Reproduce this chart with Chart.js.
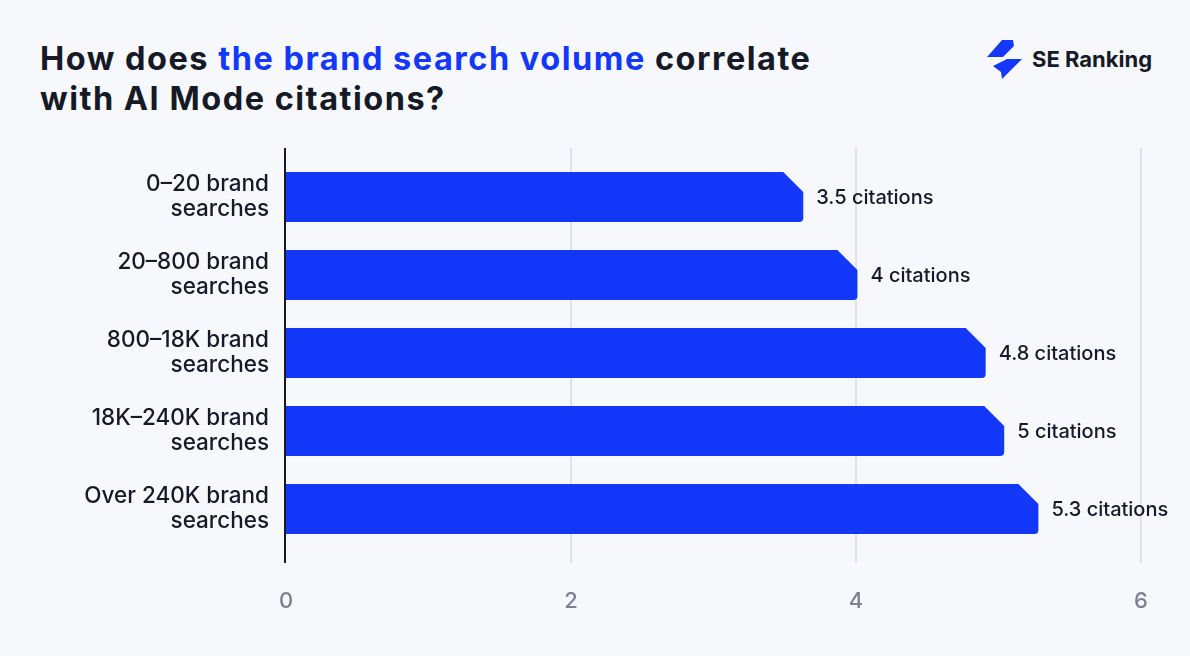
<!DOCTYPE html>
<html>
<head>
<meta charset="utf-8">
<script src="https://cdn.jsdelivr.net/npm/chart.js@4"></script>
<style>
  html, body { margin: 0; padding: 0; background: #f6f8fc; }
  body { width: 1190px; height: 656px; position: relative; overflow: hidden; font-family: Inter, "Noto Sans", sans-serif; }
  #title { position: absolute; left: 40px; top: 39px; font-size: 32.5px; font-weight: 700; line-height: 40px; color: #151a26; letter-spacing: 1.5px; }
  #title .hl { color: #1438f9; }
  #logo { position: absolute; left: 984px; top: 38px; display: flex; align-items: center; }
  #logo span { font-size: 22px; font-weight: 700; color: #151a26; margin-left: 8px; letter-spacing: 0px; }
  #wrap { position: absolute; left: 0; top: 0; width: 1190px; height: 656px; }
</style>
</head>
<body>
<div id="title">How does <span class="hl">the brand search volume</span> correlate<br>with AI Mode citations?</div>
<div id="logo">
  <svg width="40" height="42" viewBox="0 0 40 42">
    <polygon points="18,2 29,2 30,8 19,19 3,19" fill="#1438f9"/>
    <polygon points="23,21 38,21 18,41 17,34 9,28" fill="#1438f9"/>
  </svg>
  <span>SE Ranking</span>
</div>
<div id="wrap"><canvas id="c" width="1190" height="656"></canvas></div>
<script>
const categories = [
  ["0\u201320 brand", "searches"],
  ["20\u2013800 brand", "searches"],
  ["800\u201318K brand", "searches"],
  ["18K\u2013240K brand", "searches"],
  ["Over 240K brand", "searches"]
];
const values = [3.63, 4.01, 4.91, 5.04, 5.28];
const valueLabels = ["3.5 citations", "4 citations", "4.8 citations", "5 citations", "5.3 citations"];
const xTicks = [0, 2, 4, 6];

const BAR = '#1438f9';
const TEXT = '#151a26';
const GRID = '#dde2ee';

const customDraw = {
  id: 'customDraw',
  beforeDatasetsDraw(chart) {
    const ctx = chart.ctx;
    const xs = chart.scales.x;
    const area = chart.chartArea;
    const top = area.top - 10, bottom = area.bottom + 15;
    ctx.save();
    xTicks.forEach(t => {
      if (t === 0) return;
      const px = xs.getPixelForValue(t);
      ctx.strokeStyle = GRID;
      ctx.lineWidth = 2;
      ctx.beginPath(); ctx.moveTo(px, top); ctx.lineTo(px, bottom); ctx.stroke();
    });
    const px0 = xs.getPixelForValue(0);
    ctx.strokeStyle = TEXT;
    ctx.lineWidth = 2;
    ctx.beginPath(); ctx.moveTo(px0 - 1, top); ctx.lineTo(px0 - 1, bottom); ctx.stroke();
    ctx.restore();
  },
  afterDatasetsDraw(chart) {
    const ctx = chart.ctx;
    const meta = chart.getDatasetMeta(0);
    ctx.save();
    meta.data.forEach((bar, i) => {
      const p = bar.getProps(['x', 'y', 'base', 'height'], true);
      const t = p.y - p.height / 2, b = p.y + p.height / 2;
      const x = p.x, base = p.base;
      const c = 20, r = 4;
      ctx.fillStyle = BAR;
      ctx.beginPath();
      ctx.moveTo(base, t);
      ctx.lineTo(x - c, t);
      ctx.lineTo(x, t + c);
      ctx.lineTo(x, b - r);
      ctx.arcTo(x, b, x - r, b, r);
      ctx.lineTo(base, b);
      ctx.closePath();
      ctx.fill();
      ctx.fillStyle = TEXT;
      ctx.font = '500 20px Inter, "Noto Sans", sans-serif';
      ctx.textAlign = 'left';
      ctx.textBaseline = 'middle';
      ctx.fillText(valueLabels[i], x + 13, p.y + 1);
    });
    ctx.restore();
  }
};

new Chart(document.getElementById('c'), {
  type: 'bar',
  data: {
    labels: categories,
    datasets: [{
      data: values,
      backgroundColor: 'rgba(0,0,0,0)',
      borderWidth: 0,
      barPercentage: 0.64,
      categoryPercentage: 1
    }]
  },
  options: {
    indexAxis: 'y',
    responsive: false,
    animation: false,
    layout: { padding: { left: 0, right: 49, top: 158, bottom: 0 } },
    plugins: { legend: { display: false }, tooltip: { enabled: false } },
    scales: {
      x: {
        min: 0, max: 6,
        afterBuildTicks(s) { s.ticks = xTicks.map(v => ({ value: v })); },
        afterFit(s) { s.height = 108; },
        grid: { display: false, drawTicks: false },
        border: { display: false },
        ticks: { color: '#7c8190', font: { family: 'Inter', size: 22, weight: '500' }, padding: 40 }
      },
      y: {
        afterFit(s) { s.width = 286; },
        grid: { display: false, drawTicks: false },
        border: { display: false },
        ticks: { color: TEXT, font: { family: 'Inter', size: 22.5, weight: '500', lineHeight: 1.13 }, padding: 17 }
      }
    }
  },
  plugins: [customDraw]
});
</script>
</body>
</html>
